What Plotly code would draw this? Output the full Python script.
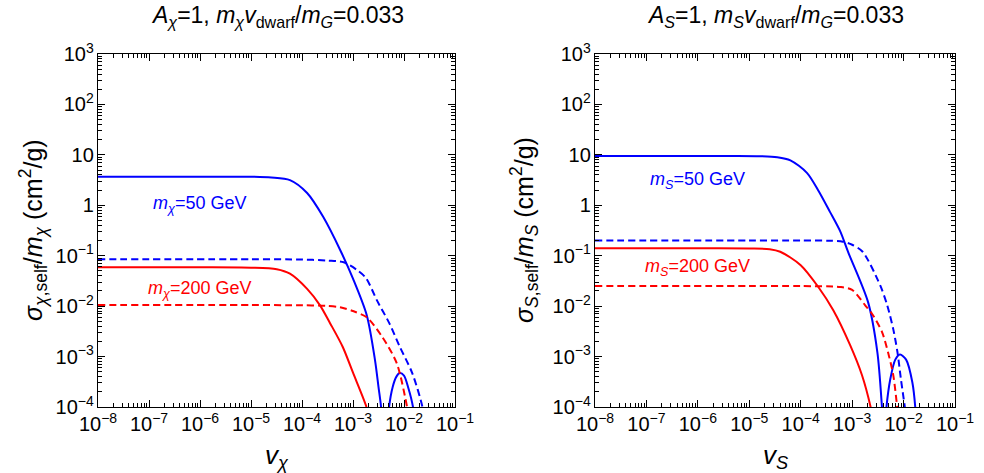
import plotly.graph_objects as go

# ---------------- data ----------------
# Left panel: fermion chi
L_blue_solid_x = [1e-8, 1e-6, 3.2e-6, 1.0e-5, 2.5e-5, 5.8e-5, 1.26e-4, 2.6e-4, 5.6e-4, 1.0e-3, 1.86e-3, 2.7e-3, 3.16e-3, 3.55e-3, 3.8e-3]
L_blue_solid_y = [3.7, 3.7, 3.7, 3.68, 3.55, 3.15, 1.75, 0.59, 0.13, 0.035, 6.6e-3, 8.5e-4, 2.5e-4, 1.0e-4, 3e-5]
L_blue_hump_x = [4.7e-3, 5.1e-3, 6.0e-3, 7.1e-3, 8.3e-3, 1.0e-2, 1.2e-2, 1.5e-2, 1.66e-2]
L_blue_hump_y = [3e-5, 1e-4, 2.5e-4, 4.0e-4, 4.7e-4, 4.2e-4, 2.5e-4, 1e-4, 3e-5]
L_blue_dash_x = [1e-8, 1e-5, 1e-4, 3.2e-4, 6.6e-4, 1.2e-3, 1.8e-3, 2.95e-3, 5.2e-3, 8.3e-3, 1.45e-2, 2.3e-2, 2.6e-2]
L_blue_dash_y = [0.085, 0.085, 0.084, 0.08, 0.074, 0.052, 0.036, 0.013, 4.5e-3, 1.55e-3, 4.7e-4, 1e-4, 4e-5]
L_red_solid_x = [1e-8, 1e-6, 1e-5, 3.2e-5, 5.8e-5, 1.26e-4, 2.24e-4, 3.55e-4, 6.3e-4, 1.0e-3, 1.78e-3, 2.0e-3]
L_red_solid_y = [0.059, 0.059, 0.058, 0.054, 0.044, 0.022, 0.0105, 4.6e-3, 1.55e-3, 4.8e-4, 1.1e-4, 7e-5]
L_red_dash_x = [1e-8, 1e-5, 1e-4, 3e-4, 5.6e-4, 1.0e-3, 1.86e-3, 3.7e-3, 7.2e-3, 1.15e-2, 1.3e-2]
L_red_dash_y = [0.0105, 0.0105, 0.0104, 0.0101, 0.0095, 0.0080, 6e-3, 2.5e-3, 7.4e-4, 1e-4, 5e-5]

# Right panel: scalar S
R_blue_solid_x = [1e-8, 1e-6, 5e-6, 1.6e-5, 3.5e-5, 6.3e-5, 1.32e-4, 2.24e-4, 3.7e-4, 5.9e-4, 8.3e-4, 2.04e-3, 3.1e-3, 3.8e-3, 4.1e-3]
R_blue_solid_y = [9.5, 9.5, 9.5, 9.4, 9.0, 7.8, 4.4, 1.9, 0.74, 0.30, 0.12, 0.012, 1.2e-3, 1e-4, 3e-5]
R_blue_hump_x = [4.3e-3, 4.6e-3, 5.5e-3, 6.9e-3, 8.5e-3, 1.12e-2, 1.48e-2, 1.7e-2, 1.78e-2]
R_blue_hump_y = [3e-5, 9e-5, 3.5e-4, 8.7e-4, 1.1e-3, 8.7e-4, 3.1e-4, 9e-5, 3e-5]
R_blue_dash_x = [1e-8, 1e-5, 1e-4, 3.7e-4, 6.6e-4, 1.0e-3, 1.6e-3, 3.5e-3, 4.8e-3, 6.3e-3, 7.6e-3, 8.9e-3, 1.07e-2, 1.15e-2]
R_blue_dash_y = [0.2, 0.2, 0.2, 0.198, 0.19, 0.165, 0.12, 0.026, 0.0105, 3.5e-3, 1.23e-3, 3.5e-4, 9e-5, 4e-5]
R_red_solid_x = [1e-8, 1e-6, 1e-5, 2.5e-5, 4.0e-5, 1.0e-4, 2.2e-4, 4.3e-4, 9.1e-4, 1.55e-3, 2.34e-3, 2.6e-3]
R_red_solid_y = [0.14, 0.14, 0.139, 0.135, 0.12, 0.065, 0.024, 8.3e-3, 1.7e-3, 4.3e-4, 9e-5, 5e-5]
R_red_dash_x = [1e-8, 1e-5, 1e-4, 5.9e-4, 1.0e-3, 1.78e-3, 2.45e-3, 3.8e-3, 5.0e-3, 6.3e-3, 7.6e-3, 8.3e-3]
R_red_dash_y = [0.025, 0.025, 0.025, 0.024, 0.021, 0.0105, 7e-3, 3.1e-3, 1.2e-3, 4.3e-4, 9e-5, 4e-5]

BLUE = "#0000ff"
RED = "#ff0000"
FONT = "Liberation Sans, Arial, sans-serif"

fig = go.Figure()

def add(x, y, color, dash, xa, ya):
    fig.add_trace(go.Scatter(
        x=x, y=y, mode="lines", xaxis=xa, yaxis=ya, showlegend=False,
        line=dict(color=color, width=2, dash=dash, shape="spline", smoothing=0.8),
        hoverinfo="skip"))

SOLID = "solid"
DASH = "7px,4px"
add(L_blue_solid_x, L_blue_solid_y, BLUE, SOLID, "x", "y")
add(L_blue_hump_x, L_blue_hump_y, BLUE, SOLID, "x", "y")
add(L_blue_dash_x, L_blue_dash_y, BLUE, DASH, "x", "y")
add(L_red_solid_x, L_red_solid_y, RED, SOLID, "x", "y")
add(L_red_dash_x, L_red_dash_y, RED, DASH, "x", "y")
add(R_blue_solid_x, R_blue_solid_y, BLUE, SOLID, "x2", "y2")
add(R_blue_hump_x, R_blue_hump_y, BLUE, SOLID, "x2", "y2")
add(R_blue_dash_x, R_blue_dash_y, BLUE, DASH, "x2", "y2")
add(R_red_solid_x, R_red_solid_y, RED, SOLID, "x2", "y2")
add(R_red_dash_x, R_red_dash_y, RED, DASH, "x2", "y2")

W, H = 984, 473
def px(x):
    return x / W
def py(y):
    return 1 - y / H

axis_common = dict(
    type="log", dtick=1, exponentformat="power",
    showline=True, linecolor="black", linewidth=1, mirror="ticks",
    ticks="inside", ticklen=7, tickwidth=1, tickcolor="black",
    showgrid=False, zeroline=False,
    minor=dict(ticks="inside", ticklen=4, tickwidth=1, tickcolor="black", dtick="D1", showgrid=False),
    tickfont=dict(family=FONT, size=16, color="black"),
)

fig.update_layout(
    width=W, height=H,
    margin=dict(l=0, r=0, t=0, b=0, autoexpand=False),
    paper_bgcolor="white", plot_bgcolor="white",
    xaxis=dict(domain=[px(98), px(455)], range=[-8, -1], anchor="y", **axis_common),
    yaxis=dict(domain=[py(407), py(54)], range=[-4, 3], anchor="x", **axis_common),
    xaxis2=dict(domain=[px(595), px(955)], range=[-8, -1], anchor="y2", **axis_common),
    yaxis2=dict(domain=[py(407), py(54)], range=[-4, 3], anchor="x2", **axis_common),
)

ann = []
def text(x, y, t, size, color="black", angle=0):
    ann.append(dict(x=px(x), y=py(y), xref="paper", yref="paper", text=t, showarrow=False,
                    xanchor="center", yanchor="middle", textangle=angle,
                    font=dict(family=FONT, size=size, color=color)))

text(277, 16, "<i>A</i><sub><i>χ</i></sub>=1, <i>m</i><sub><i>χ</i></sub><i>v</i><sub>dwarf</sub>/<i>m</i><sub><i>G</i></sub>=0.033", 23)
text(775, 16, "<i>A</i><sub><i>S</i></sub>=1, <i>m</i><sub><i>S</i></sub><i>v</i><sub>dwarf</sub>/<i>m</i><sub><i>G</i></sub>=0.033", 23)
text(277, 456, "<i>v</i><sub><i>χ</i></sub>", 26)
text(775, 456, "<i>v</i><sub><i>S</i></sub>", 26)
text(33, 230, "<i>σ</i><sub><i>χ</i>,self</sub>/<i>m</i><sub><i>χ</i></sub> (cm<sup>2</sup>/g)", 25, angle=-90)
text(524, 230, "<i>σ</i><sub><i>S</i>,self</sub>/<i>m</i><sub><i>S</i></sub> (cm<sup>2</sup>/g)", 25, angle=-90)
text(199, 204, "<i>m</i><sub><i>χ</i></sub>=50 GeV", 18, BLUE)
text(199, 289, "<i>m</i><sub><i>χ</i></sub>=200 GeV", 18, RED)
text(697, 180, "<i>m</i><sub><i>S</i></sub>=50 GeV", 18, BLUE)
text(697, 267, "<i>m</i><sub><i>S</i></sub>=200 GeV", 18, RED)
fig.update_layout(annotations=ann)

fig.write_html("out.html", config={"displayModeBar": False},
               post_script="document.body.style.margin='0';")
